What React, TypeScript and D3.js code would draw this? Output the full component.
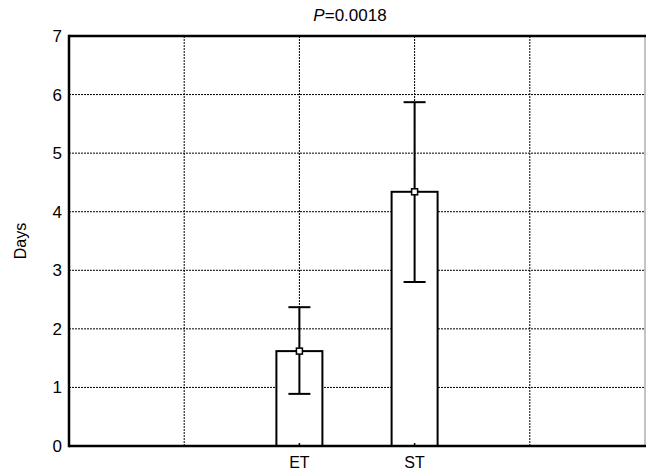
import { useEffect } from "react";
import * as d3 from "d3";

const categories = ["ET", "ST"];
const means = [1.62, 4.34];
const upper = [2.37, 5.87];
const lower = [0.89, 2.8];
const yTicks = [0, 1, 2, 3, 4, 5, 6, 7];
const xGrid = [1, 2, 3, 4];
const title = "0.0018";

const W = 646, H = 470;
const margin = { top: 36, right: 1, bottom: 24, left: 69 };
const innerW = W - margin.left - margin.right;
const innerH = H - margin.top - margin.bottom;
const font = "'Liberation Sans', Arial, sans-serif";

export default function App() {
  useEffect(() => { document.body.style.margin = "0"; }, []);

  const x = d3.scaleLinear().domain([0, 5]).range([0, innerW]);
  const y = d3.scaleLinear().domain([0, 7]).range([innerH, 0]);
  const pos = (i: number) => x(i + 2);
  const barW = 46, capW = 22, mk = 6;

  return (
    <svg width={W} height={H} style={{ display: "block", background: "#fff" }}>
      <text x={350} y={21} textAnchor="middle" fontSize={17} fontFamily={font} fill="#000">
        <tspan fontStyle="italic">P</tspan>={title}
      </text>
      <text transform={`translate(26,${margin.top + innerH / 2}) rotate(-90)`} textAnchor="middle"
        fontSize={16} fontFamily={font} fill="#000">Days</text>
      <g transform={`translate(${margin.left},${margin.top})`}>
        {yTicks.filter((t) => t > 0 && t < 7).map((t) => (
          <line key={`gy${t}`} x1={0} x2={innerW} y1={y(t)} y2={y(t)} stroke="#000" strokeWidth={1} strokeDasharray="2 1" />
        ))}
        {xGrid.map((t) => (
          <line key={`gx${t}`} x1={x(t)} x2={x(t)} y1={0} y2={innerH} stroke="#000" strokeWidth={1} strokeDasharray="2 1" />
        ))}
        {categories.map((c, i) => (
          <rect key={c} x={pos(i) - barW / 2} y={y(means[i])} width={barW} height={innerH - y(means[i])}
            fill="#fff" stroke="#000" strokeWidth={2} />
        ))}
        {categories.map((c, i) => (
          <g key={`e${c}`} stroke="#000" strokeWidth={2}>
            <line x1={pos(i)} x2={pos(i)} y1={y(upper[i])} y2={y(lower[i])} />
            <line x1={pos(i) - capW / 2} x2={pos(i) + capW / 2} y1={y(upper[i])} y2={y(upper[i])} />
            <line x1={pos(i) - capW / 2} x2={pos(i) + capW / 2} y1={y(lower[i])} y2={y(lower[i])} />
            <rect x={pos(i) - mk / 2} y={y(means[i]) - mk / 2} width={mk} height={mk} fill="#fff" strokeWidth={1.5} />
          </g>
        ))}
        {categories.map((c, i) => (
          <g key={`t${c}`}>
            <line x1={pos(i)} x2={pos(i)} y1={innerH} y2={innerH - 3} stroke="#000" strokeWidth={1.5} />
            <text x={pos(i)} y={innerH + 22} textAnchor="middle" fontSize={16} fontFamily={font} fill="#000">{c}</text>
          </g>
        ))}
        {yTicks.map((t) => (
          <text key={`yl${t}`} x={-7} y={y(t) + 6} textAnchor="end" fontSize={17} fontFamily={font} fill="#000">{t}</text>
        ))}
        <line x1={innerW} x2={innerW} y1={0} y2={innerH} stroke="#888" strokeWidth={1} />
        <line x1={0} x2={innerW + 1} y1={0} y2={0} stroke="#000" strokeWidth={2.5} />
        <line x1={0} x2={innerW + 1} y1={innerH} y2={innerH} stroke="#000" strokeWidth={2.5} />
        <line x1={0} x2={0} y1={-1.2} y2={innerH + 1.2} stroke="#000" strokeWidth={2.5} />
      </g>
    </svg>
  );
}
